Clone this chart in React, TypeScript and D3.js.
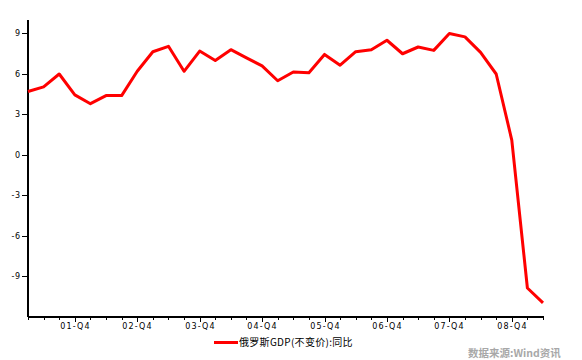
import React from "react";
import * as d3 from "d3";

const quarters = [
  "01-Q1", "01-Q2", "01-Q3", "01-Q4",
  "02-Q1", "02-Q2", "02-Q3", "02-Q4",
  "03-Q1", "03-Q2", "03-Q3", "03-Q4",
  "04-Q1", "04-Q2", "04-Q3", "04-Q4",
  "05-Q1", "05-Q2", "05-Q3", "05-Q4",
  "06-Q1", "06-Q2", "06-Q3", "06-Q4",
  "07-Q1", "07-Q2", "07-Q3", "07-Q4",
  "08-Q1", "08-Q2", "08-Q3", "08-Q4",
  "09-Q1", "09-Q2",
];

const gdpYoY = [
  4.7, 5.05, 6.0, 4.45, 3.8, 4.4, 4.4, 6.2,
  7.65, 8.05, 6.2, 7.7, 7.0, 7.8, 7.2, 6.6,
  5.5, 6.15, 6.1, 7.45, 6.65, 7.65, 7.8, 8.5,
  7.5, 8.0, 7.75, 9.0, 8.75, 7.6, 6.0, 1.1,
  -9.85, -10.95,
];

const xTickLabels = ["01-Q4", "02-Q4", "03-Q4", "04-Q4", "05-Q4", "06-Q4", "07-Q4", "08-Q4"];
const yTicks = [9, 6, 3, 0, -3, -6, -9];

const seriesName = "俄罗斯GDP(不变价):同比";
const sourceText = "数据来源:Wind资讯";

export default function App() {
  const W = 582;
  const H = 360;
  const left = 28;
  const right = 543;
  const top = 20;
  const bottom = 317;

  const x = d3.scalePoint<string>().domain(quarters).range([left, right]);
  const y = d3.scaleLinear().domain([-12, 10]).range([bottom, top]);

  const line = d3
    .line<number>()
    .x((_, i) => x(quarters[i]) as number)
    .y((d) => y(d));

  const font = "'DejaVu Sans', sans-serif";

  return (
    <svg
      width={W}
      height={H}
      style={{ position: "absolute", left: 0, top: 0, background: "#fff" }}
      shapeRendering="crispEdges"
    >
      <rect x={0} y={0} width={W} height={H} fill="#fff" />
      {/* y axis */}
      <line x1={left} x2={left} y1={top} y2={bottom} stroke="#000" strokeWidth={2} />
      {yTicks.map((t) => (
        <g key={t}>
          <line x1={left - 6} x2={left} y1={y(t)} y2={y(t)} stroke="#000" strokeWidth={1} />
          <text
            x={left - 7}
            y={y(t)}
            dy="0.35em"
            textAnchor="end"
            fontSize={8}
            fontFamily={font}
            letterSpacing={0.8}
            fill="#000"
          >
            {t < 0 ? "-" + Math.abs(t) : t}
          </text>
        </g>
      ))}
      {/* x axis */}
      <line x1={left} x2={right + 1} y1={bottom} y2={bottom} stroke="#000" strokeWidth={1.5} />
      {quarters.map((q) => {
        const major = xTickLabels.includes(q);
        const xx = Math.round(x(q) as number);
        return (
          <g key={q}>
            <line
              x1={xx}
              x2={xx}
              y1={bottom}
              y2={bottom + (major ? 5 : 3)}
              stroke="#000"
              strokeWidth={1}
            />
            {major && (
              <text
                x={xx + 0.5}
                y={bottom + 12}
                textAnchor="middle"
                fontSize={8}
                fontFamily={font}
                letterSpacing={1.2}
                fill="#000"
              >
                {q}
              </text>
            )}
          </g>
        );
      })}
      {/* series */}
      <path
        d={line(gdpYoY) || ""}
        fill="none"
        stroke="#ff0000"
        strokeWidth={3}
        strokeLinejoin="round"
        shapeRendering="auto"
      />
      {/* legend */}
      <line x1={214} x2={238} y1={342.5} y2={342.5} stroke="#ff0000" strokeWidth={3} />
      <text
        x={239}
        y={346}
        fontSize={10}
        fontFamily="'Noto Sans CJK SC', sans-serif"
        letterSpacing={0.3}
        fill="#000"
      >
        {seriesName}
      </text>
      {/* source */}
      <text
        x={468}
        y={357}
        fontSize={10.5}
        fontWeight="bold"
        fontFamily="'Noto Sans CJK SC', sans-serif"
        fill="#a8a8a8"
      >
        {sourceText}
      </text>
    </svg>
  );
}
